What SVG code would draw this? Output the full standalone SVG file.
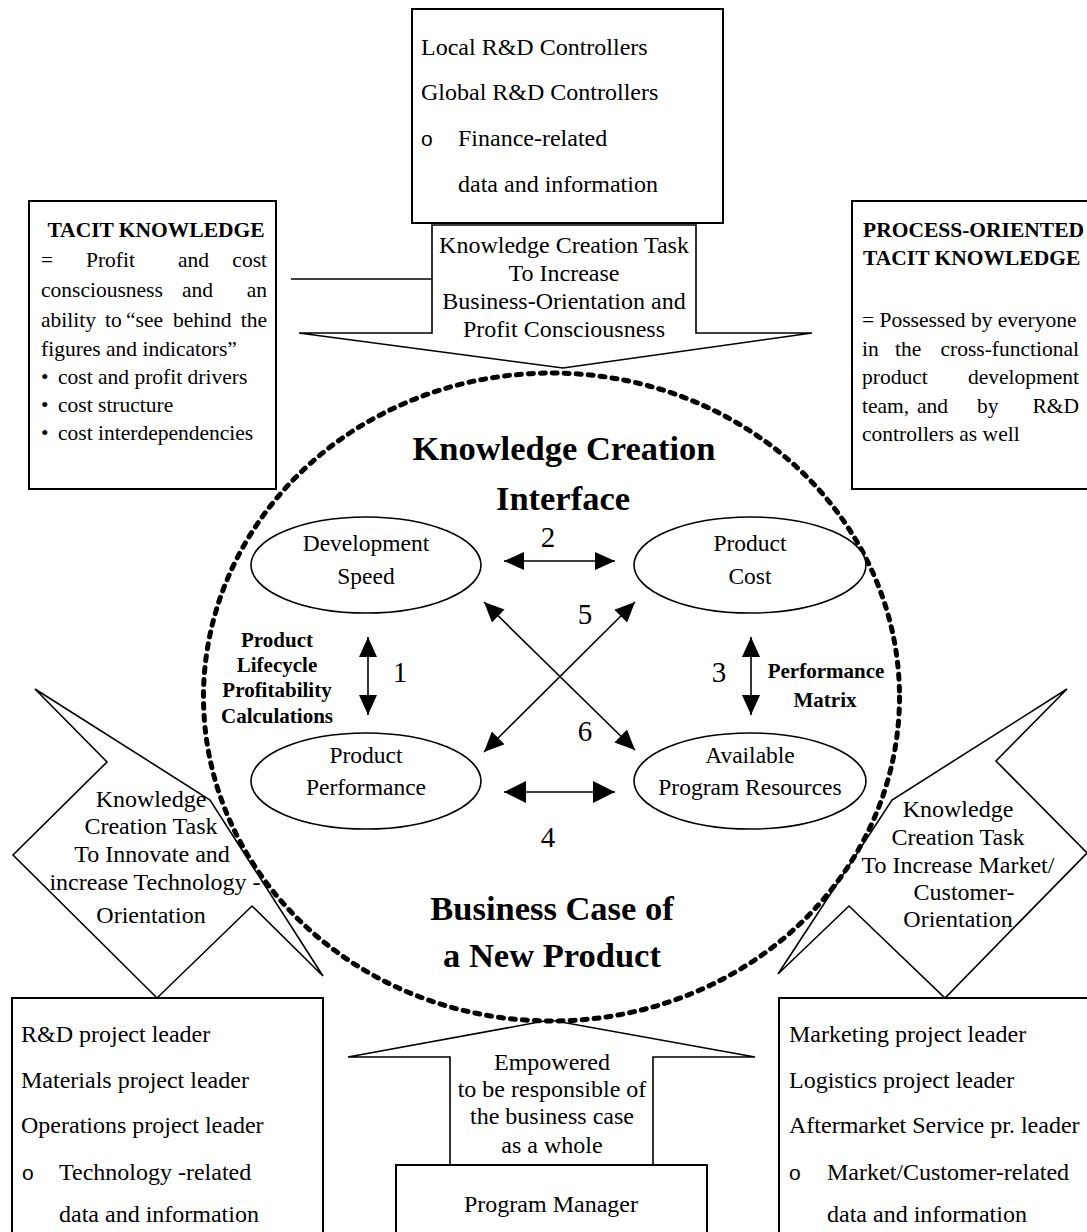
<svg xmlns="http://www.w3.org/2000/svg" width="1087" height="1232" viewBox="0 0 1087 1232">
<defs>
<style>
.t{font-family:"Liberation Serif","Times New Roman",serif;fill:#000}
.s24{font-size:24px}
.s23{font-size:23.5px}
.s21{font-size:21.5px}
.s29{font-size:29px}
.s34{font-size:34.5px;font-weight:bold}
.b{font-weight:bold}
.m{text-anchor:middle}
.e{text-anchor:end}
.box{fill:#fff;stroke:#000;stroke-width:2}
.co{fill:#fff;stroke:#000;stroke-width:1.6;stroke-linejoin:miter}
.el{fill:#fff;stroke:#000;stroke-width:1.6}
.cn{stroke:#000;stroke-width:1.6;fill:none}
.bul{font-family:"Liberation Sans",Arial,sans-serif;font-size:21px}
</style>
<marker id="ah" viewBox="0 0 20 18" refX="20" refY="9" markerWidth="20" markerHeight="18" markerUnits="userSpaceOnUse" orient="auto-start-reverse"><path d="M0,0 L20,9 L0,18 z" fill="#000"/></marker>
<marker id="ahb" viewBox="0 0 22 22" refX="22" refY="11" markerWidth="22" markerHeight="22" markerUnits="userSpaceOnUse" orient="auto-start-reverse"><path d="M0,0 L22,11 L0,22 z" fill="#000"/></marker>
</defs>
<rect width="1087" height="1232" fill="#fff"/>

<g id="top-box">
<rect class="box" x="412" y="9" width="311" height="214"/>
<text class="t s24" x="421" y="55">Local R&amp;D Controllers</text>
<text class="t s24" x="421" y="100">Global R&amp;D Controllers</text>
<text class="bul" x="421" y="146">o</text>
<text class="t s24" x="458" y="146">Finance-related</text>
<text class="t s24" x="458" y="192">data and information</text>
</g>

<g id="tacit-box">
<rect class="box" x="29" y="201" width="247" height="288"/>
<text class="t s21 b m" x="156" y="237">TACIT KNOWLEDGE</text>
<text class="t s21" y="267"><tspan x="41">=</tspan><tspan x="86">Profit</tspan><tspan x="178">and</tspan></text>
<text class="t s21 e" x="267" y="267">cost</text>
<text class="t s21" y="297"><tspan x="41">consciousness</tspan><tspan x="182">and</tspan></text>
<text class="t s21 e" x="267" y="297">an</text>
<text class="t s21" y="327"><tspan x="41">ability</tspan><tspan x="105">to</tspan><tspan x="126">“see</tspan><tspan x="173">behind</tspan></text>
<text class="t s21 e" x="267" y="327">the</text>
<text class="t s21" x="41" y="356">figures and indicators”</text>
<text class="t s21" x="41" y="384">•</text><text class="t s21" x="58" y="384">cost and profit drivers</text>
<text class="t s21" x="41" y="412">•</text><text class="t s21" x="58" y="412">cost structure</text>
<text class="t s21" x="41" y="440">•</text><text class="t s21" x="58" y="440">cost interdependencies</text>
</g>

<g id="process-box">
<rect class="box" x="852" y="201" width="245" height="288"/>
<text class="t s21 b" x="863" y="237">PROCESS-ORIENTED</text>
<text class="t s21 b" x="863" y="265">TACIT KNOWLEDGE</text>
<text class="t s21" x="862" y="327">= Possessed by everyone</text>
<text class="t s21" y="356"><tspan x="862">in</tspan><tspan x="895">the</tspan></text>
<text class="t s21 e" x="1079" y="356">cross-functional</text>
<text class="t s21" x="862" y="384">product</text>
<text class="t s21 e" x="1079" y="384">development</text>
<text class="t s21" y="413"><tspan x="862">team,</tspan><tspan x="917">and</tspan><tspan x="977">by</tspan></text>
<text class="t s21 e" x="1079" y="413">R&amp;D</text>
<text class="t s21" x="862" y="441">controllers as well</text>
</g>

<g id="task-business">
<path class="co" d="M432,225 L696,225 L696,333 L812,333 L563,368 L299,333 L432,333 Z"/>
<text class="t s24 m" x="564" y="253">Knowledge Creation Task</text>
<text class="t s24 m" x="564" y="281">To Increase</text>
<text class="t s24 m" x="564" y="309">Business-Orientation and</text>
<text class="t s24 m" x="564" y="337">Profit Consciousness</text>
</g>

<g id="task-technology">
<polygon class="co" points="35,689 210,800 323,976 252,906 157,998 13,855 107,762"/>
<text class="t s24 m" x="151" y="807">Knowledge</text>
<text class="t s24 m" x="151" y="834">Creation Task</text>
<text class="t s24 m" x="152" y="862">To Innovate and</text>
<text class="t s24 m" x="155" y="890">increase Technology -</text>
<text class="t s24 m" x="151" y="923">Orientation</text>
</g>

<g id="task-market">
<polygon class="co" points="1067,689 892,800 778,974 849,906 945,998 1087,853 996,761"/>
<text class="t s24 m" x="958" y="817">Knowledge</text>
<text class="t s24 m" x="958" y="845">Creation Task</text>
<text class="t s24 m" x="958" y="873">To Increase Market/</text>
<text class="t s24 m" x="964" y="900">Customer-</text>
<text class="t s24 m" x="958" y="927">Orientation</text>
</g>

<g id="empowered">
<path class="co" d="M450,1165 L450,1057 L348,1057 L550,1020 L755,1057 L653,1057 L653,1165"/>
<text class="t s24 m" x="552" y="1070">Empowered</text>
<text class="t s24 m" x="552" y="1097">to be responsible of</text>
<text class="t s24 m" x="552" y="1124">the business case</text>
<text class="t s24 m" x="552" y="1153">as a whole</text>
</g>

<g id="program-manager">
<rect class="box" x="396" y="1165" width="311" height="80"/>
<text class="t s24 m" x="551" y="1212">Program Manager</text>
</g>

<g id="tech-leaders">
<rect class="box" x="12" y="998" width="311" height="250"/>
<text class="t s24" x="21" y="1042">R&amp;D project leader</text>
<text class="t s24" x="21" y="1088">Materials project leader</text>
<text class="t s24" x="21" y="1133">Operations project leader</text>
<text class="bul" x="22" y="1180">o</text>
<text class="t s24" x="59" y="1180">Technology -related</text>
<text class="t s24" x="59" y="1222">data and information</text>
</g>

<g id="market-leaders">
<rect class="box" x="779" y="998" width="320" height="250"/>
<text class="t s24" x="789" y="1042">Marketing project leader</text>
<text class="t s24" x="789" y="1088">Logistics project leader</text>
<text class="t s24" x="789" y="1133">Aftermarket Service pr. leader</text>
<text class="bul" x="789" y="1180">o</text>
<text class="t s24" x="827" y="1180">Market/Customer-related</text>
<text class="t s24" x="827" y="1222">data and information</text>
</g>

<g id="knowledge-creation-interface">
<ellipse cx="551.5" cy="697" rx="348" ry="324" fill="none" stroke="#000" stroke-width="5" stroke-dasharray="5 7" stroke-linecap="round"/>
<text class="t s34 m" x="564" y="460">Knowledge Creation</text>
<text class="t s34 m" x="563" y="510">Interface</text>
<text class="t s34 m" x="552" y="920">Business Case of</text>
<text class="t s34 m" x="552" y="967">a New Product</text>
</g>

<g id="development-speed">
<ellipse class="el" cx="366" cy="565" rx="115" ry="48"/>
<text class="t s23 m" x="366" y="551">Development</text>
<text class="t s23 m" x="366" y="584">Speed</text>
</g>
<g id="product-cost">
<ellipse class="el" cx="750" cy="565" rx="116" ry="48"/>
<text class="t s23 m" x="750" y="551">Product</text>
<text class="t s23 m" x="750" y="584">Cost</text>
</g>
<g id="product-performance">
<ellipse class="el" cx="366" cy="781" rx="115" ry="48"/>
<text class="t s23 m" x="366" y="763">Product</text>
<text class="t s23 m" x="366" y="795">Performance</text>
</g>
<g id="program-resources">
<ellipse class="el" cx="750" cy="781" rx="116" ry="48"/>
<text class="t s23 m" x="750" y="763">Available</text>
<text class="t s23 m" x="750" y="795">Program Resources</text>
</g>

<g id="connectors">
<line class="cn" x1="291" y1="279" x2="432" y2="279"/>
<line class="cn" x1="504" y1="561" x2="615" y2="561" marker-start="url(#ah)" marker-end="url(#ah)"/>
<line class="cn" x1="368" y1="637" x2="368" y2="715" stroke-width="2" marker-start="url(#ah)" marker-end="url(#ah)"/>
<line class="cn" x1="751" y1="637" x2="751" y2="715" stroke-width="2" marker-start="url(#ah)" marker-end="url(#ah)"/>
<line class="cn" x1="504" y1="792" x2="615" y2="792" stroke-width="2.5" marker-start="url(#ahb)" marker-end="url(#ahb)"/>
<line class="cn" x1="484" y1="602" x2="635" y2="750" marker-start="url(#ah)" marker-end="url(#ah)"/>
<line class="cn" x1="635" y1="602" x2="484" y2="752" marker-start="url(#ah)" marker-end="url(#ah)"/>
<text class="t s29 m" x="548" y="547">2</text>
<text class="t s29 m" x="400" y="682">1</text>
<text class="t s29 m" x="719" y="682">3</text>
<text class="t s29 m" x="548" y="847">4</text>
<text class="t s29 m" x="585" y="624">5</text>
<text class="t s29 m" x="585" y="741">6</text>
<text class="t b m" font-size="21" x="277" y="647">Product</text>
<text class="t b m" font-size="21" x="277" y="672">Lifecycle</text>
<text class="t b m" font-size="21" x="277" y="697">Profitability</text>
<text class="t b m" font-size="21" x="277" y="723">Calculations</text>
<text class="t b m" font-size="21" x="826" y="678">Performance</text>
<text class="t b m" font-size="21" x="825" y="707">Matrix</text>
</g>
</svg>
